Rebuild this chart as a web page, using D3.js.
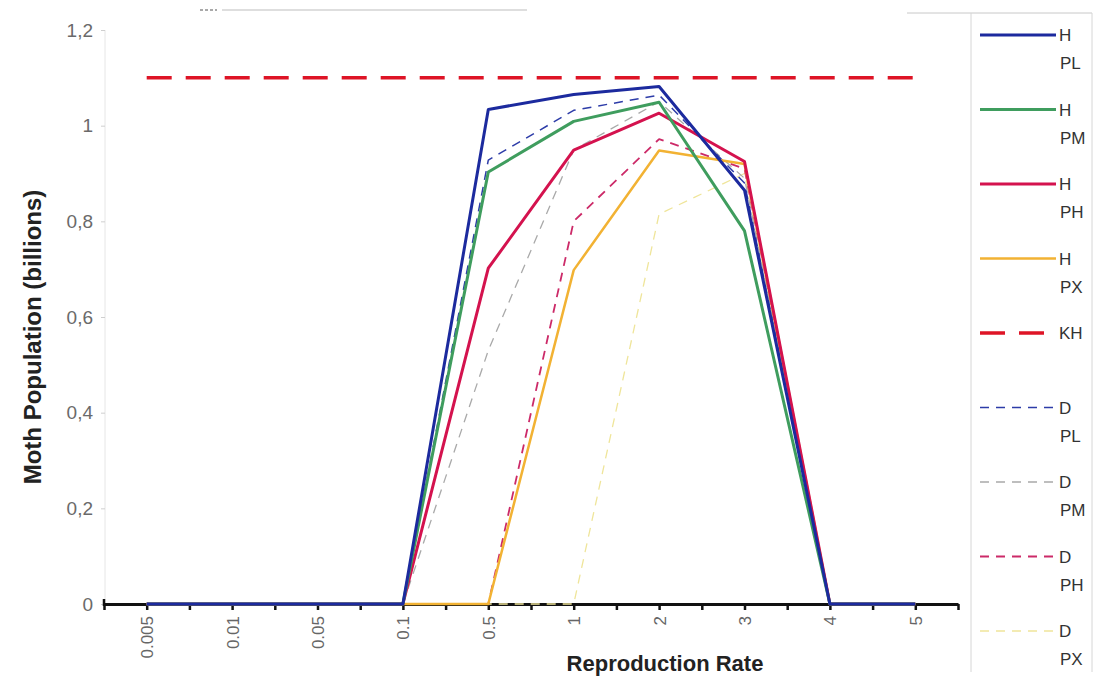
<!DOCTYPE html>
<html><head><meta charset="utf-8">
<script src="https://cdn.jsdelivr.net/npm/d3@7"></script>
<style>body{margin:0;background:#fff;} svg{display:block;font-family:"Liberation Sans",Arial,sans-serif;}</style>
</head><body>
<svg id="chart" width="1093" height="681"></svg>
<script>
const categories = ["0.005","0.01","0.05","0.1","0.5","1","2","3","4","5"];
const yTickValues = [0,0.2,0.4,0.6,0.8,1,1.2];
const yTickLabels = ["0","0,2","0,4","0,6","0,8","1","1,2"];
const seriesNames = ["H PL","H PM","H PH","H PX","KH","D PL","D PM","D PH","D PX"];
const hPL = [0,0,0,0,1.034,1.065,1.082,0.865,0,0];
const hPM = [0,0,0,0,0.903,1.009,1.049,0.78,0,0];
const hPH = [0,0,0,0,0.702,0.949,1.026,0.925,0,0];
const hPX = [0,0,0,0,0,0.698,0.948,0.92,0,0];
const kH  = [1.1,1.1,1.1,1.1,1.1,1.1,1.1,1.1,1.1,1.1];
const dPL = [0,0,0,0,0.928,1.032,1.064,0.88,0,0];
const dPM = [0,0,0,0,0.53,0.949,1.05,0.89,0,0];
const dPH = [0,0,0,0,0,0.80,0.972,0.91,0,0];
const dPX = [0,0,0,0,0,0,0.815,0.9,0,0];

const styles = [
  {c:"#1c2a9e", w:3, dash:null},
  {c:"#3f9d5e", w:3, dash:null},
  {c:"#d4124e", w:3, dash:null},
  {c:"#f2b233", w:2.5, dash:null},
  {c:"#de1426", w:3.5, dash:"25,14"},
  {c:"#2d3ca8", w:1.5, dash:"9,7"},
  {c:"#a9a9a9", w:1.3, dash:"9,7"},
  {c:"#cc2a68", w:1.8, dash:"9,7"},
  {c:"#efe59a", w:1.3, dash:"9,7"}
];
const seriesData = [hPL,hPM,hPH,hPX,kH,dPL,dPM,dPH,dPX];

const svg = d3.select("#chart");
const x = d3.scaleLinear().domain([-0.5, categories.length-0.5]).range([104, 958]);
const y = d3.scaleLinear().domain([0,1.2]).range([604,30]);

// stray top lines
svg.append("line").attr("x1",222).attr("x2",527).attr("y1",10).attr("y2",10).attr("stroke","#bdbdbd").attr("stroke-width",1);
svg.append("line").attr("x1",200).attr("x2",217).attr("y1",10).attr("y2",10).attr("stroke","#555").attr("stroke-width",1.2).attr("stroke-dasharray","3,2");

// y axis
svg.append("line").attr("x1",105).attr("x2",105).attr("y1",y(1.2)).attr("y2",y(0)).attr("stroke","#e6e6e6").attr("stroke-width",1);
const yAxis = d3.axisLeft(y).tickValues(yTickValues).tickSize(4).tickPadding(8)
  .tickFormat((d,i)=>yTickLabels[i]);
const gy = svg.append("g").attr("transform","translate(105,0)").call(yAxis);
gy.select(".domain").remove();
gy.selectAll(".tick line").attr("stroke","#cfcfcf");
gy.selectAll(".tick text").attr("fill","#6a6a6a").style("font-size","19px");

// x axis
const xTicks = d3.range(-0.5, categories.length, 0.5);
const xAxis = d3.axisBottom(x).tickValues(xTicks).tickSize(6).tickSizeOuter(0)
  .tickFormat(d => Number.isInteger(d) ? categories[d] : "");
const gx = svg.append("g").attr("transform","translate(0,"+y(0)+")").call(xAxis);
gx.select(".domain").attr("stroke","#111").attr("stroke-width",3);
gx.selectAll(".tick line").attr("stroke","#111").attr("stroke-width",2.5);
gx.selectAll(".tick text").attr("fill","#666").style("font-size","17px")
  .attr("transform","rotate(-90)").attr("text-anchor","end").attr("x",-12).attr("y",0).attr("dy","0.35em");
svg.append("line").attr("x1",104).attr("x2",104).attr("y1",y(0)-5).attr("y2",y(0)+2).attr("stroke","#111").attr("stroke-width",2.5);

// series lines
const line = d3.line().x((d,i)=>x(i)).y(d=>y(d));
const drawOrder = [4,8,7,6,5,3,2,1,0];
drawOrder.forEach(k=>{
  svg.append("path").datum(seriesData[k]).attr("d",line)
    .attr("fill","none").attr("stroke",styles[k].c).attr("stroke-width",styles[k].w)
    .attr("stroke-dasharray",styles[k].dash).attr("stroke-linejoin","round");
});

// axis titles
svg.append("text").attr("transform","translate(41,337) rotate(-90)").attr("text-anchor","middle")
  .style("font-size","24px").style("font-weight","bold").attr("fill","#222").text("Moth Population (billions)");
svg.append("text").attr("x",665).attr("y",671).attr("text-anchor","middle")
  .style("font-size","22px").style("font-weight","bold").attr("fill","#222").text("Reproduction Rate");

// legend box
svg.append("line").attr("x1",907).attr("x2",1092).attr("y1",13).attr("y2",13).attr("stroke","#c8c8c8");
svg.append("line").attr("x1",971).attr("x2",971).attr("y1",13).attr("y2",672).attr("stroke","#d6d6d6");
svg.append("line").attr("x1",1092).attr("x2",1092).attr("y1",13).attr("y2",672).attr("stroke","#d6d6d6");

const legY = d3.scalePoint().domain(seriesNames).range([35,631]);
seriesNames.forEach((nm,k)=>{
  const ly = legY(nm);
  svg.append("line").attr("x1",980).attr("x2",1056).attr("y1",ly).attr("y2",ly)
    .attr("stroke",styles[k].c).attr("stroke-width",styles[k].w).attr("stroke-dasharray",styles[k].dash);
  const parts = nm.split(" ");
  const t = svg.append("text").attr("x",1059).attr("y",ly+6).style("font-size","17px").attr("fill","#333");
  if(parts.length===1){ t.text(parts[0]); }
  else {
    t.append("tspan").attr("x",1059).text(parts[0]);
    t.append("tspan").attr("x",1060).attr("dy",28).text(parts[1]);
  }
});
</script>
</body></html>
